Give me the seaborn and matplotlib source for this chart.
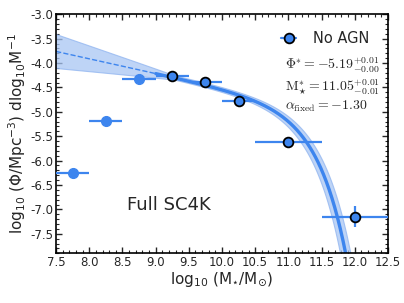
import numpy as np
import pandas as pd
import seaborn as sns
import matplotlib
matplotlib.use("Agg")
import matplotlib.pyplot as plt
from matplotlib.lines import Line2D

sns.set_style("ticks")
plt.rcParams['font.family'] = ['DejaVu Sans']
plt.rcParams['axes.unicode_minus'] = False
plt.rcParams['mathtext.fontset'] = 'dejavusans'

# --- data ---
mass_fit = [9.25, 9.75, 10.25, 11.0, 12.0]
phi_fit = [-4.27, -4.38, -4.78, -5.62, -7.15]
xerr_fit = [0.25, 0.25, 0.25, 0.5, 0.5]
yerr_fit = [0.02, 0.03, 0.04, 0.05, 0.22]

mass_excl = [7.75, 8.25, 8.75]
phi_excl = [-6.25, -5.18, -4.32]
xerr_excl = [0.25, 0.25, 0.25]

phi_star = -5.19
m_star = 11.05
alpha = -1.30
fit_min = 9.0

BLUE = '#3d85ee'
BAND = '#a9c6f4'


def schechter(m, lphi, ms, a):
    return lphi + np.log10(np.log(10)) + (a + 1) * (m - ms) - 10 ** (m - ms) / np.log(10)


fig = plt.figure(figsize=(4.04, 3.03), dpi=100)
ax = fig.add_axes([0.139, 0.164, 0.821, 0.789])

m = np.linspace(7.5, 12.5, 600)
pivot = 9.3
curves = []
for dphi in (-0.02, 0.02):
    for dm in (-0.075, 0.075):
        for da in (-0.17, 0.0, 0.17):
            lp = phi_star + dphi
            c = schechter(m, lp, m_star + dm, alpha)
            c = c + np.where(m < pivot, da * (m - pivot), 0.0)
            curves.append(c)
curves = np.array(curves)
ax.fill_between(m, curves.min(axis=0), curves.max(axis=0), color=BAND, alpha=0.75,
                lw=0.8, edgecolor='#8fb4f0', zorder=1)

best = schechter(m, phi_star, m_star, alpha)
df = pd.DataFrame({'m': m, 'phi': best})
lo = df[df.m <= fit_min]
hi = df[df.m >= fit_min]
sns.lineplot(data=lo, x='m', y='phi', ax=ax, color=BLUE, lw=1.0, ls='--', zorder=2)
sns.lineplot(data=hi, x='m', y='phi', ax=ax, color=BLUE, lw=2.4, zorder=2)

ax.errorbar(mass_excl, phi_excl, xerr=xerr_excl, fmt='o', color=BLUE, ms=7,
            mec=BLUE, elinewidth=1.6, capsize=0, zorder=3)
ax.errorbar(mass_fit, phi_fit, xerr=xerr_fit, yerr=yerr_fit, fmt='o', color=BLUE,
            mfc=BLUE, mec='black', mew=1.3, ms=7, elinewidth=1.6, capsize=0, zorder=4)

ax.set_xlim(7.5, 12.5)
ax.set_ylim(-7.9, -3.0)
ax.set_xticks(np.arange(7.5, 12.51, 0.5))
ax.set_yticks(np.arange(-7.5, -2.99, 0.5))
ax.set_xticklabels([f'{v:.1f}' for v in np.arange(7.5, 12.51, 0.5)])
ax.set_yticklabels([f'{v:.1f}' for v in np.arange(-7.5, -2.99, 0.5)])
ax.minorticks_on()
ax.xaxis.set_minor_locator(matplotlib.ticker.MultipleLocator(0.1))
ax.yaxis.set_minor_locator(matplotlib.ticker.MultipleLocator(0.1))
ax.tick_params(which='both', direction='in', top=True, right=True, labelsize=8.5, pad=2)
ax.tick_params(which='major', length=4, width=1)
ax.tick_params(which='minor', length=2, width=0.8)
for s in ax.spines.values():
    s.set_linewidth(1.2)
    s.set_color('black')

ax.set_xlabel(r'log$_{10}$ (M$_{\star}$/M$_{\odot}$)', fontsize=11, labelpad=1)
ax.set_ylabel(r'log$_{10}$ ($\Phi$/Mpc$^{-3}$) dlog$_{10}$M$^{-1}$', fontsize=11, labelpad=2)

handle = Line2D([], [], marker='o', color=BLUE, mfc=BLUE, mec='black', mew=1.3, ms=7, lw=1.6)
leg = ax.legend([handle], ['No AGN'], loc='upper right', frameon=False, fontsize=10.5,
                handlelength=1.0, handletextpad=1.2, bbox_to_anchor=(0.985, 0.985))

ax.text(0.69, 0.705,
        r'$\Phi^{*}=-5.19^{+0.01}_{-0.00}$' + '\n' + r'$\mathrm{M}^{*}_{\star}=11.05^{+0.01}_{-0.01}$'
        + '\n' + r'$\alpha_{\mathrm{fixed}}=-1.30$',
        transform=ax.transAxes, fontsize=10, va='center', ha='left', math_fontfamily='cm',
        linespacing=1.2)

ax.text(0.215, 0.2, 'Full SC4K', transform=ax.transAxes, fontsize=13, va='center', ha='left')

fig.savefig('out.png', dpi=100)
